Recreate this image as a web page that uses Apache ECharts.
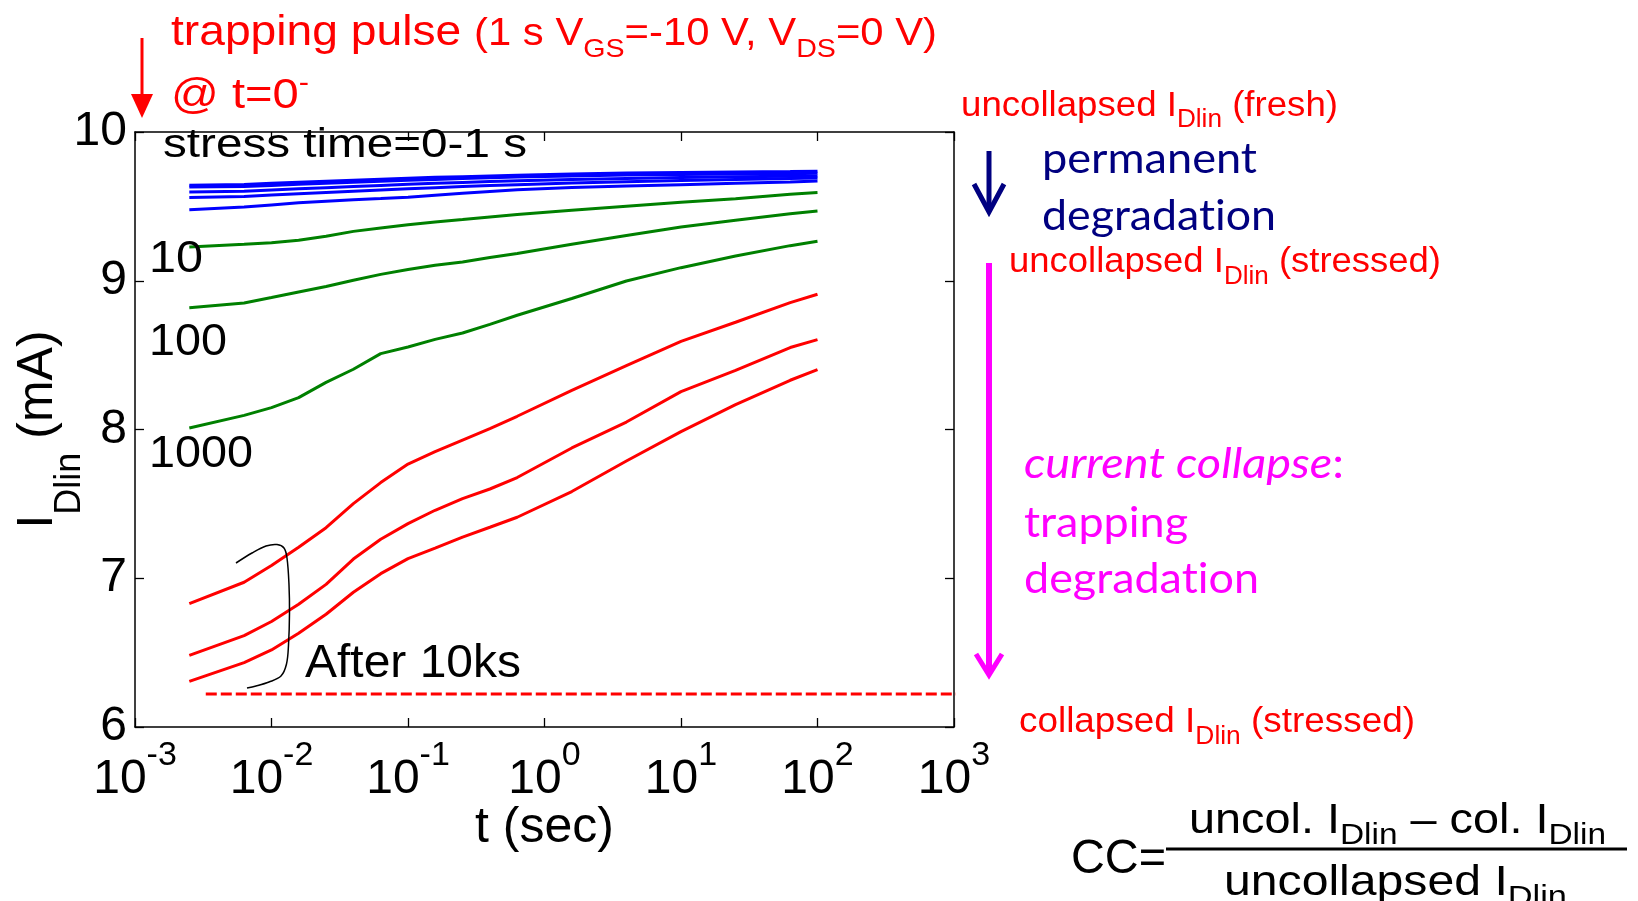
<!DOCTYPE html>
<html><head><meta charset="utf-8">
<script src="https://cdn.jsdelivr.net/npm/echarts@6/dist/echarts.min.js"></script>
<style>html,body{margin:0;padding:0;background:#fff;}#c{width:1638px;height:901px;}</style>
</head><body><div id="c"></div>
<script>
// ---------------- data ----------------
const timeSec = [0.0025, 0.0063, 0.01, 0.0158, 0.0251, 0.0398, 0.0631, 0.1, 0.158, 0.251, 0.398, 0.631, 1.585, 3.98, 10, 25.1, 63.1, 100];
// stress time 0-1 s (blue)
const blueA = [9.642, 9.647, 9.655, 9.662, 9.669, 9.676, 9.683, 9.689, 9.695, 9.700, 9.705, 9.710, 9.718, 9.724, 9.728, 9.731, 9.734, 9.736];
const blueB = [9.630, 9.634, 9.641, 9.648, 9.655, 9.662, 9.669, 9.675, 9.681, 9.687, 9.692, 9.697, 9.705, 9.711, 9.715, 9.718, 9.720, 9.722];
const blueC = [9.597, 9.602, 9.610, 9.618, 9.626, 9.634, 9.641, 9.648, 9.655, 9.661, 9.667, 9.672, 9.681, 9.688, 9.694, 9.699, 9.703, 9.705];
const blueD = [9.559, 9.566, 9.576, 9.585, 9.594, 9.602, 9.610, 9.618, 9.626, 9.633, 9.640, 9.646, 9.657, 9.666, 9.674, 9.681, 9.687, 9.690];
const blueE = [9.478, 9.496, 9.510, 9.524, 9.535, 9.545, 9.553, 9.562, 9.575, 9.588, 9.600, 9.611, 9.627, 9.637, 9.646, 9.655, 9.664, 9.671];
// stress time 10, 100, 1000 s (green)
const green10   = [9.227, 9.245, 9.256, 9.272, 9.299, 9.332, 9.355, 9.377, 9.395, 9.411, 9.429, 9.445, 9.474, 9.501, 9.527, 9.552, 9.581, 9.593];
const green100  = [8.819, 8.850, 8.887, 8.924, 8.961, 9.003, 9.043, 9.075, 9.104, 9.126, 9.156, 9.183, 9.245, 9.304, 9.361, 9.406, 9.451, 9.469];
const green1000 = [8.010, 8.095, 8.147, 8.214, 8.317, 8.405, 8.510, 8.555, 8.606, 8.649, 8.707, 8.768, 8.881, 8.998, 9.088, 9.166, 9.236, 9.265];
// after 10 ks (red)
const redA = [6.830, 6.973, 7.086, 7.208, 7.340, 7.502, 7.643, 7.768, 7.851, 7.929, 8.006, 8.089, 8.263, 8.430, 8.593, 8.721, 8.853, 8.909];
const redB = [6.482, 6.614, 6.709, 6.825, 6.959, 7.129, 7.262, 7.367, 7.457, 7.535, 7.600, 7.677, 7.876, 8.050, 8.255, 8.398, 8.551, 8.604];
const redC = [6.307, 6.433, 6.518, 6.630, 6.758, 6.906, 7.031, 7.132, 7.203, 7.277, 7.343, 7.410, 7.583, 7.788, 7.986, 8.167, 8.331, 8.403];
// reference levels (dashed)
const levelNames  = ['uncollapsed fresh', 'uncollapsed stressed', 'collapsed stressed'];
const levelValues = [9.945, 9.339, 6.222];
const levelFromT  = [1040, 1040, 0.0033];
const levelToT    = [7200, 7200, 7200];
// axes
const xRange = [0.001, 1000];
const yRange = [6, 10];
const yStep = 1;

// ---------------- helpers ----------------
const FA = 'Liberation Sans', FC = 'Lato';
const RED = '#ff0000', NAVY = '#000080', MAG = '#ff00ff';
const ZW = '\u200C';
const C = document.createElement('canvas').getContext('2d');
function fstr(s, f, it) { return (it ? 'italic ' : '') + s + 'px "' + f + '"'; }
function midOff(s, f, it) {
  C.font = fstr(s, f, it);
  C.textBaseline = 'alphabetic'; const a = C.measureText('H').actualBoundingBoxAscent;
  C.textBaseline = 'middle'; const b = C.measureText('H').actualBoundingBoxAscent;
  C.textBaseline = 'alphabetic';
  return a - b;
}
function textW(t, s, f, it) { C.font = fstr(s, f, it); return C.measureText(t).width; }
function tok(size, fam, it, L, col) {
  return { fontSize: size, fontFamily: fam, fontStyle: it ? 'italic' : 'normal',
    lineHeight: L, height: L, verticalAlign: 'top', color: col, fill: col };
}
function buildRich(parts, B, fam, color) {
  const rich = {}; let text = ''; let w = 0;
  parts.forEach((p, i) => {
    const f = p.fam || fam;
    const L = 2 * (B + (p.dy || 0) - midOff(p.size, f, p.it));
    rich['r' + i] = tok(p.size, f, p.it, L, p.color || color);
    text += '{r' + i + '|' + p.t + '}';
    w += textW(p.t, p.size, f, p.it);
  });
  return { rich, text, w };
}
function textEl(a) {
  const B = 80;
  const r = buildRich(a.parts, B, a.fam || FA, a.color);
  return { type: 'text', x: a.x, y: a.base - B, scaleX: a.w ? a.w / r.w : 1, silent: true, z: 100,
    style: { text: r.text, rich: r.rich, align: 'left', verticalAlign: 'top', fill: a.color } };
}

// ---------------- annotation texts (layout) ----------------
const notes = [
  { x: 171, base: 45, w: 766, color: RED, parts: [
    { t: 'trapping pulse ', size: 42 }, { t: '(1 s V', size: 38 }, { t: 'GS', size: 26, dy: 12 },
    { t: '=-10 V, V', size: 38 }, { t: 'DS', size: 26, dy: 12 }, { t: '=0 V)', size: 38 }] },
  { x: 171, base: 108, w: 138, color: RED, parts: [{ t: '@ t=0', size: 43 }, { t: '-', size: 28, dy: -17 }] },
  { x: 163, base: 157, w: 364, color: '#000', parts: [{ t: 'stress time=0-1 s', size: 41 }] },
  { x: 149, base: 272, w: 54, color: '#000', parts: [{ t: '10', size: 45 }] },
  { x: 149, base: 355, w: 78, color: '#000', parts: [{ t: '100', size: 45 }] },
  { x: 149, base: 467, w: 104, color: '#000', parts: [{ t: '1000', size: 45 }] },
  { x: 305, base: 677, w: 216, color: '#000', parts: [{ t: 'After 10ks', size: 46 }] },
  { x: 961, base: 116, w: 377, color: RED, parts: [
    { t: 'uncollapsed I', size: 35 }, { t: 'Dlin', size: 25, dy: 11 }, { t: ' (fresh)', size: 35 }] },
  { x: 1042, base: 173, w: 215, color: NAVY, fam: FC, parts: [{ t: 'permanent', size: 42 }] },
  { x: 1042, base: 230, w: 234, color: NAVY, fam: FC, parts: [{ t: 'degrada' + ZW + 't' + ZW + 'ion', size: 42 }] },
  { x: 1009, base: 272, w: 432, color: RED, parts: [
    { t: 'uncollapsed I', size: 35 }, { t: 'Dlin', size: 25, dy: 12 }, { t: ' (stressed)', size: 35 }] },
  { x: 1024, base: 478, w: 320, color: MAG, fam: FC, parts: [
    { t: 'current collapse', size: 42, it: true }, { t: ':', size: 42 }] },
  { x: 1024, base: 537, w: 164, color: MAG, fam: FC, parts: [{ t: 'trapping', size: 42 }] },
  { x: 1024, base: 593, w: 235, color: MAG, fam: FC, parts: [{ t: 'degrada' + ZW + 't' + ZW + 'ion', size: 42 }] },
  { x: 1019, base: 732, w: 396, color: RED, parts: [
    { t: 'collapsed I', size: 35 }, { t: 'Dlin', size: 25, dy: 12 }, { t: ' (stressed)', size: 35 }] },
  { x: 1071, base: 873, w: 95, color: '#000', parts: [{ t: 'CC=', size: 48 }] },
  { x: 1189, base: 833, w: 417, color: '#000', parts: [
    { t: 'uncol. I', size: 42 }, { t: 'Dlin', size: 30, dy: 11 }, { t: ' \u2013 col. I', size: 42 }, { t: 'Dlin', size: 30, dy: 11 }] },
  { x: 1224, base: 895, w: 343, color: '#000', parts: [
    { t: 'uncollapsed I', size: 42 }, { t: 'Dlin', size: 30, dy: 11 }] }
];

const shapes = [
  // trapping pulse arrow
  { type: 'line', shape: { x1: 142, y1: 38, x2: 142, y2: 100 }, style: { stroke: RED, lineWidth: 3 } },
  { type: 'polygon', shape: { points: [[131, 94], [153, 94], [142, 118]] }, style: { fill: RED } },
  // permanent degradation arrow
  { type: 'line', shape: { x1: 989, y1: 151, x2: 989, y2: 211 }, style: { stroke: NAVY, lineWidth: 5 } },
  { type: 'polyline', shape: { points: [[974, 184], [989, 212], [1004, 184]] }, style: { stroke: NAVY, lineWidth: 5, fill: null } },
  // current collapse arrow
  { type: 'line', shape: { x1: 989, y1: 263, x2: 989, y2: 674 }, style: { stroke: MAG, lineWidth: 6 } },
  { type: 'polyline', shape: { points: [[976, 654], [989, 675], [1002, 654]] }, style: { stroke: MAG, lineWidth: 5, fill: null } },
  // bracket
  { type: 'polyline', shape: { smooth: 0.35, points: [[236, 563], [252, 553], [266, 546], [277, 544.5], [284, 548], [287, 558], [289, 585], [289.5, 613], [288.5, 645], [286.5, 664], [281, 676], [269, 682], [256, 686], [247, 688]] },
    style: { stroke: '#000', lineWidth: 1.5, fill: null } },
  // fraction bar
  { type: 'line', shape: { x1: 1166, y1: 849, x2: 1627, y2: 849 }, style: { stroke: '#000', lineWidth: 3 } }
];

// ---------------- axes text ----------------
const off48 = midOff(48, FA), off34 = midOff(34, FA), off50 = midOff(50, FA), off36 = midOff(36, FA);
const axisBottom = 727, axisLeft = 135;
const xLabMargin = 6;
const xLabTop = axisBottom + xLabMargin;
const xMainL = 2 * ((793 - xLabTop) - off48);
const xSupL = 2 * ((765 - xLabTop) - off34);
const xNameGap = 842 - axisBottom - (25 + off50);
// y axis name: main baseline at x=52, subscript baseline at x=80
const yB = 40;
const yMainL = 2 * (yB - off50);
const ySubL = 2 * (yB + 28 - off36);
const yNameGap = axisLeft - ((52 - yB) + Math.max(yMainL, ySubL));

const colorOf = { blue: '#0000ff', green: '#008000', red: '#ff0000' };
const curveSets = [
  ['stress 0-1 s a', blueA, 'blue'], ['stress 0-1 s b', blueB, 'blue'], ['stress 0-1 s c', blueC, 'blue'],
  ['stress 0-1 s d', blueD, 'blue'], ['stress 0-1 s e', blueE, 'blue'],
  ['stress 10 s', green10, 'green'], ['stress 100 s', green100, 'green'], ['stress 1000 s', green1000, 'green'],
  ['after 10ks a', redA, 'red'], ['after 10ks b', redB, 'red'], ['after 10ks c', redC, 'red']
];
const series = curveSets.map(([name, vals, c]) => ({
  name, type: 'line', xAxisIndex: 0, yAxisIndex: 0, symbol: 'none', showSymbol: false, silent: true,
  data: timeSec.map((t, i) => [t, vals[i]]),
  lineStyle: { color: colorOf[c], width: 3 }, z: 3
}));
levelNames.forEach((name, i) => {
  series.push({ name, type: 'line', xAxisIndex: 0, yAxisIndex: 0, symbol: 'none', showSymbol: false, silent: true,
    clip: false, data: [[levelFromT[i], levelValues[i]], [levelToT[i], levelValues[i]]],
    lineStyle: { color: RED, width: 3, type: [11, 4] }, z: 4 });
});

const lineS = { color: '#000', width: 1.5 };
const tickS = { show: true, inside: true, length: 9, lineStyle: { color: '#000', width: 1.3 } };
const option = {
  animation: false,
  backgroundColor: '#fff',
  textStyle: { fontFamily: FA },
  grid: { left: 135, top: 132, width: 819, height: 595, containLabel: false, outerBoundsMode: 'none' },
  xAxis: [
    { type: 'log', logBase: 10, min: xRange[0], max: xRange[1], position: 'bottom', splitNumber: 6,
      axisLine: { show: true, onZero: false, lineStyle: lineS }, axisTick: tickS, minorTick: { show: false },
      splitLine: { show: false },
      axisLabel: { margin: xLabMargin, color: '#000', showMinLabel: true, showMaxLabel: true,
        formatter: v => '{b|10}{s|' + Math.round(Math.log10(v)) + '}',
        rich: { b: tok(48, FA, false, xMainL, '#000'), s: tok(34, FA, false, xSupL, '#000') } },
      name: 't (sec)', nameLocation: 'middle', nameGap: xNameGap, nameMoveOverlap: false,
      nameTextStyle: { fontSize: 50, fontFamily: FA, color: '#000', lineHeight: 50 } },
    { type: 'log', logBase: 10, min: xRange[0], max: xRange[1], position: 'top', splitNumber: 6,
      axisLine: { show: true, onZero: false, lineStyle: lineS }, axisTick: tickS, axisLabel: { show: false },
      splitLine: { show: false }, minorTick: { show: false } }
  ],
  yAxis: [
    { type: 'value', min: yRange[0], max: yRange[1], interval: yStep, position: 'left',
      axisLine: { show: true, onZero: false, lineStyle: lineS }, axisTick: tickS, splitLine: { show: false },
      axisLabel: { fontSize: 48, fontFamily: FA, color: '#000', margin: 8 },
      name: '{a|I}{b|Dlin}{a| (mA)}', nameLocation: 'middle', nameRotate: 90, nameGap: yNameGap, nameMoveOverlap: false,
      nameTextStyle: { color: '#000', rich: { a: tok(50, FA, false, yMainL, '#000'), b: tok(36, FA, false, ySubL, '#000') } } },
    { type: 'value', min: yRange[0], max: yRange[1], interval: yStep, position: 'right',
      axisLine: { show: true, onZero: false, lineStyle: lineS }, axisTick: tickS, splitLine: { show: false },
      axisLabel: { show: false } }
  ],
  series,
  graphic: shapes.map(s => Object.assign({ silent: true, z: 100 }, s)).concat(notes.map(textEl))
};
const chart = echarts.init(document.getElementById('c'), null, { renderer: 'canvas' });
chart.setOption(option);
</script>
</body></html>
